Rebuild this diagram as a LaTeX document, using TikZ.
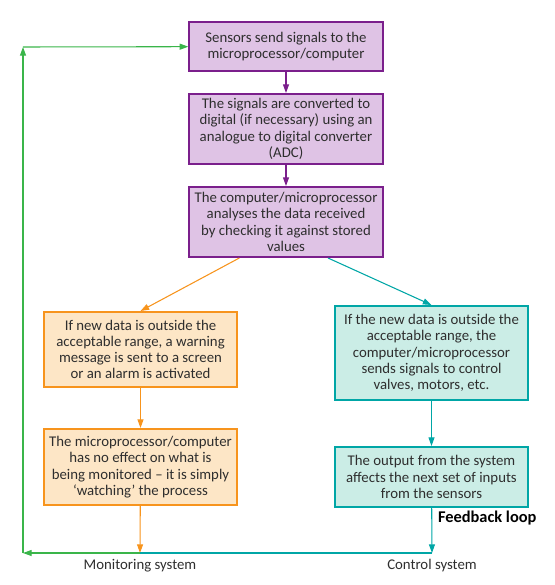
\documentclass[tikz,border=0pt]{standalone}
\usepackage{fontspec}
\setmainfont{Carlito}
\usetikzlibrary{arrows.meta}
\definecolor{txt}{HTML}{2E2E2E}
\definecolor{purp}{HTML}{7B1F8C}
\definecolor{purpfill}{HTML}{DFC3E5}
\definecolor{orng}{HTML}{F7941D}
\definecolor{orngfill}{HTML}{FDE6C6}
\definecolor{teal}{HTML}{00A6A6}
\definecolor{tealfill}{HTML}{CBEDE6}
\definecolor{grn}{HTML}{3AB54A}
\begin{document}
\begin{tikzpicture}[x=0.75pt,y=-0.75pt,
    font=\fontsize{11.1}{12.2}\selectfont,text=txt,
    Box/.style={rectangle,line width=1.5pt,align=center,inner sep=2pt,minimum width=145pt},
    PBox/.style={Box,draw=purp,fill=purpfill},
    OBox/.style={Box,draw=orng,fill=orngfill},
    TBox/.style={Box,draw=teal,fill=tealfill},
    Arr/.style={line width=0.8pt,-{Triangle[length=6.5pt,width=4.5pt]}}]
      \useasboundingbox (0,0) rectangle (555,585);
      \node[PBox,minimum height=36.75pt] (SEN) at (286,46.5) {Sensors send signals to the\\microprocessor/computer};
      \node[PBox,minimum height=52.5pt] (ADC) at (286,129) {The signals are converted to\\digital (if necessary) using an\\analogue to digital converter\\(ADC)};
      \node[PBox,minimum height=52.5pt] (CPU) at (286,222) {The computer/microprocessor\\analyses the data received\\by checking it against stored\\values};
      \node[OBox,minimum height=56.25pt] (WARN) at (140.5,349.5) {If new data is outside the\\acceptable range, a warning\\message is sent to a screen\\or an alarm is activated};
      \node[OBox,minimum height=57pt] (WATCH) at (140.5,467) {The microprocessor/computer\\has no effect on what is\\being monitored -- it is simply\\`watching' the process};
      \node[TBox,minimum height=70.5pt] (CTRL) at (431.5,353) {If the new data is outside the\\acceptable range, the\\computer/microprocessor\\sends signals to control\\valves, motors, etc.};
      \node[TBox,minimum height=45pt] (OUT) at (431.5,477) {The output from the system\\affects the next set of inputs\\from the sensors};
      \coordinate (MS) at (140,553);
      \coordinate (CS) at (432,553);
      \coordinate (BL) at (23,553);
      \coordinate (TL) at (23,47);
      \node[below=1pt] (MSL) at (MS) {Monitoring system};
      \node[below=1pt] (CSL) at (CS) {Control system};
      \node[right=1pt,font=\fontsize{12.3}{13}\selectfont\bfseries,text=black] (FB) at (432,518) {Feedback loop};
      \draw[Arr,purp] (SEN) -- (ADC);
      \draw[Arr,purp] (ADC) -- (CPU);
      \draw[Arr,orng] ([xshift=-35pt]CPU.south) -- (WARN.north);
      \draw[Arr,orng] (WARN) -- (WATCH);
      \draw[Arr,orng] (WATCH) -- (MS);
      \draw[Arr,teal] ([xshift=31.5pt]CPU.south) -- (CTRL.north);
      \draw[Arr,teal] (CTRL) -- (OUT);
      \draw[Arr,teal] (OUT) -- (CS);
      \draw[line width=0.8pt,teal] (CS) -- (MS);
      \draw[Arr,grn] (MS) -- (BL);
      \draw[Arr,grn] (BL) -- (TL);
      \draw[Arr,grn] (TL) -- (SEN);
\end{tikzpicture}
\end{document}
